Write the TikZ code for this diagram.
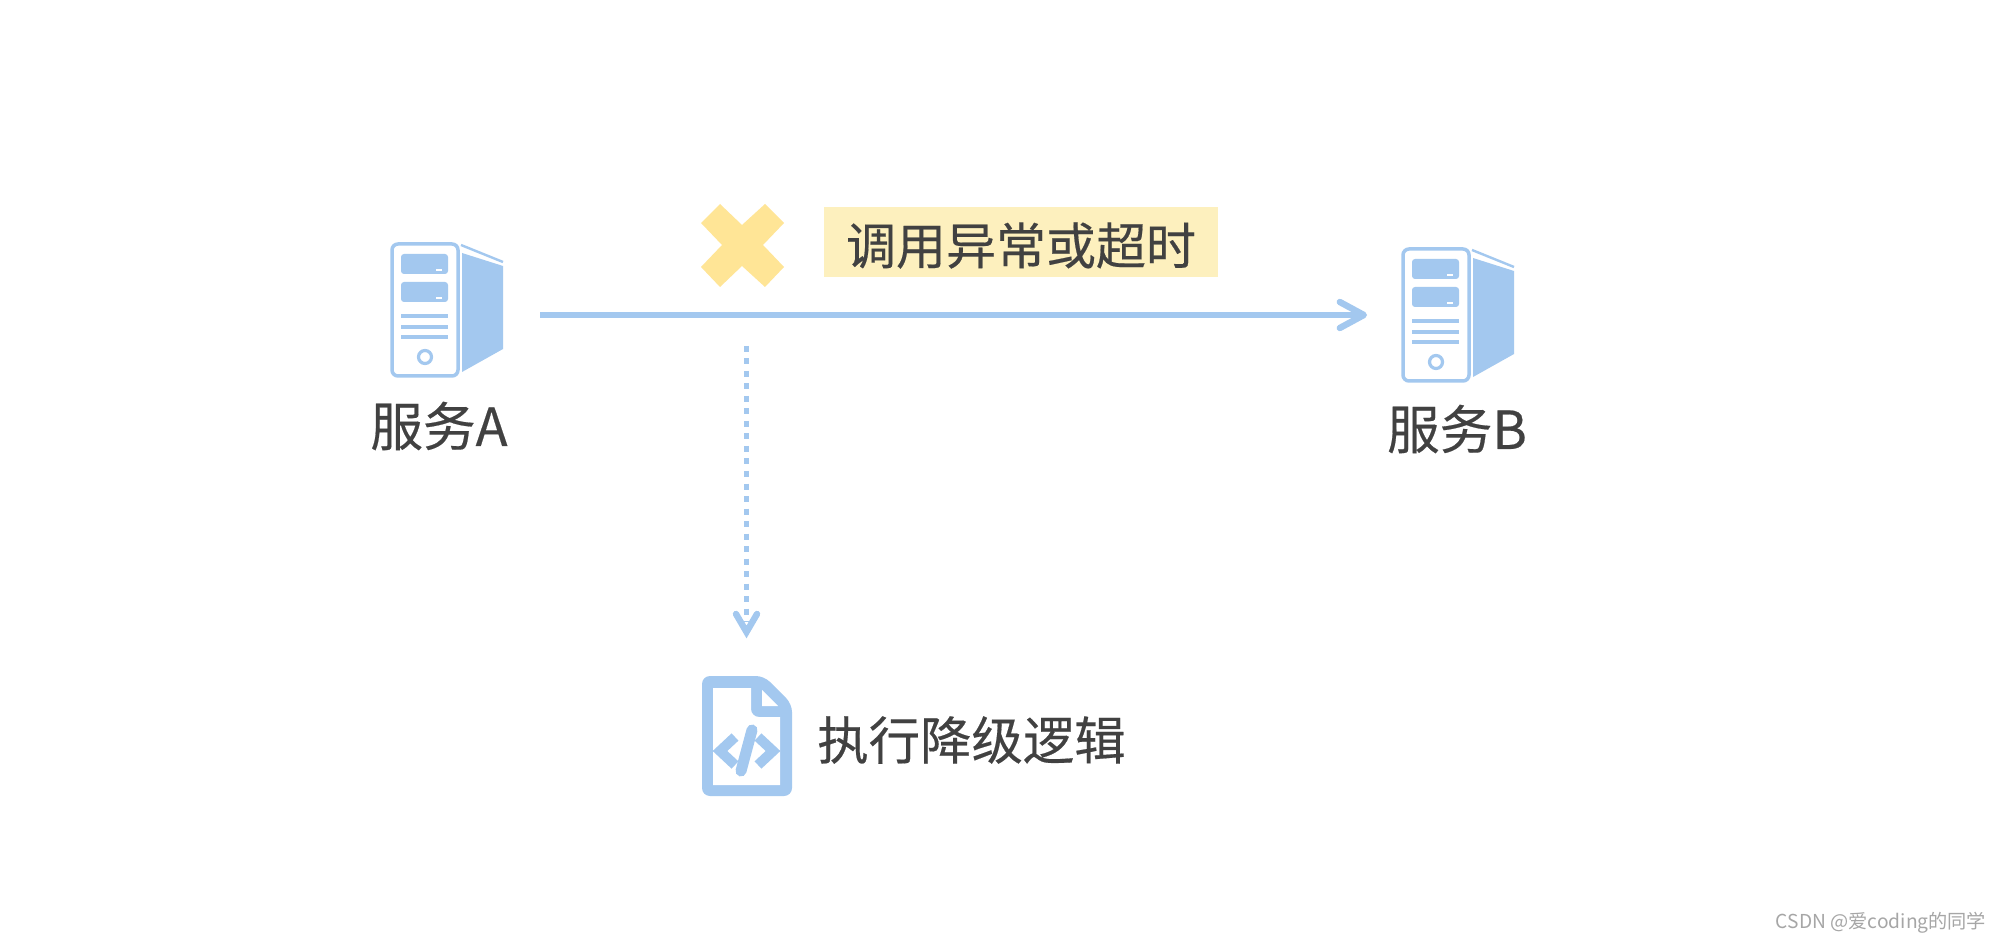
\documentclass[tikz,border=0pt]{standalone}
\usepackage{fontspec}
\setmainfont[FakeBold=0.35]{Noto Sans CJK SC}
\newfontfamily\markfont{Noto Sans CJK SC}
\usetikzlibrary{arrows.meta}
\definecolor{iconblue}{HTML}{A3C8EF}
\definecolor{crossyellow}{HTML}{FFE596}
\definecolor{tagyellow}{HTML}{FDF0BE}
\definecolor{inktext}{HTML}{414141}
\definecolor{marktext}{HTML}{A6A6A6}
\tikzset{
  x=0.5pt,y=-0.5pt,
  iconline/.style={draw=iconblue,line width=1.75pt,rounded corners=3pt},
  iconfill/.style={fill=iconblue,draw=none},
  iconstroke/.style={draw=iconblue,line width=1.6pt},
  lab/.style={inner sep=0pt,text=inktext,font=\fontsize{26.3}{30}\selectfont},
  calltip/.style={-{Straight Barb[length=12pt,width=13pt,line width=3.2pt,round]}},
  callline/.style={draw=iconblue,line width=2.8pt,calltip},
  fallbackline/.style={draw=iconblue,line width=2.5pt,dash pattern=on 3pt off 3.25pt},
  fallbackhead/.style={draw=iconblue,line width=3.2pt,line cap=round,line join=miter},
}
\newcommand{\serverpic}[2]{%
  \begin{scope}[shift={(#1,#2)}]
    \draw[iconline] (0,0) rectangle (66,132);
    \fill[iconfill,rounded corners=1.5pt] (9,10) rectangle (56,30);
    \fill[iconfill,rounded corners=1.5pt] (9,38) rectangle (56,58);
    \fill[white] (44,25) rectangle (50,27);
    \fill[white] (44,53) rectangle (50,55);
    \draw[iconstroke] (9,72) -- (56,72);
    \draw[iconstroke] (9,83) -- (56,83);
    \draw[iconstroke] (9,93) -- (56,93);
    \draw[draw=iconblue,line width=1.6pt] (33,113) circle (6.5);
    \fill[iconfill] (70,9) -- (111,22) -- (111,105) -- (70,128) -- cycle;
    \draw[draw=iconblue,line width=1.2pt] (69,1) -- (111,18);
  \end{scope}}
\begin{document}
\begin{tikzpicture}
\useasboundingbox (0,0) rectangle (2000,940);
\fill[white] (0,0) rectangle (2000,940);
% servers
\serverpic{392}{244}
\serverpic{1403}{249}
\node[lab] (labA) at (439,426) {服务A};
\node[lab] (labB) at (1457,429) {服务B};
% call arrow
\coordinate (callA) at (540,315);
\coordinate (callB) at (1367,315);
\draw[callline] (callA) -- (callB);
% cross
\fill[crossyellow] (720,204) -- (742,225) -- (765,204) -- (784,223) -- (763,245) -- (784,267) -- (765,287) -- (742,266) -- (720,287) -- (701,267) -- (722,245) -- (701,223) -- cycle;
% label
\node[fill=tagyellow,minimum width=197pt,minimum height=35pt,inner sep=0pt] (tag) at (1021,242.5) {};
\node[inner sep=0pt,text=inktext,font=\fontsize{25}{30}\selectfont] (tagtext) at (1021,245.5) {调用异常或超时};
% fallback arrow
\coordinate (fallA) at (746.5,346);
\coordinate (fallC) at (746.5,622);
\coordinate (fallB) at (746.5,632);
\coordinate (fallL) at (736,614);
\coordinate (fallR) at (757,614);
\draw[fallbackline] (fallA) -- (fallC);
\draw[fallbackhead] (fallL) -- (fallB) -- (fallR);
% document icon
\fill[iconblue,rounded corners=4pt] (702,676) -- (764,676) -- (792,704) -- (792,796) -- (702,796) -- cycle;
\fill[white] (713,688) -- (751,688) -- (751,709) [rounded corners=4pt] -- (751,717) [sharp corners] -- (780,717) -- (780,785) -- (713,785) -- cycle;
\fill[white] (762,690) -- (778,706) -- (762,706) -- cycle;
\draw[iconblue,line width=5pt] (735,737) -- (720,751) -- (735,765);
\draw[iconblue,line width=5pt] (758,737) -- (773,751) -- (758,765);
\draw[iconblue,line width=5.5pt,line cap=round] (752,730) -- (741,771);
\node[inner sep=0pt,text=inktext,font=\fontsize{25.7}{30}\selectfont] (fallback) at (971.5,740) {执行降级逻辑};
% watermark
\node[inner sep=0pt,text=marktext,font=\markfont\fontsize{9.6}{11}\selectfont] (mark) at (1881,923) {CSDN @爱coding的同学};
\end{tikzpicture}
\end{document}
